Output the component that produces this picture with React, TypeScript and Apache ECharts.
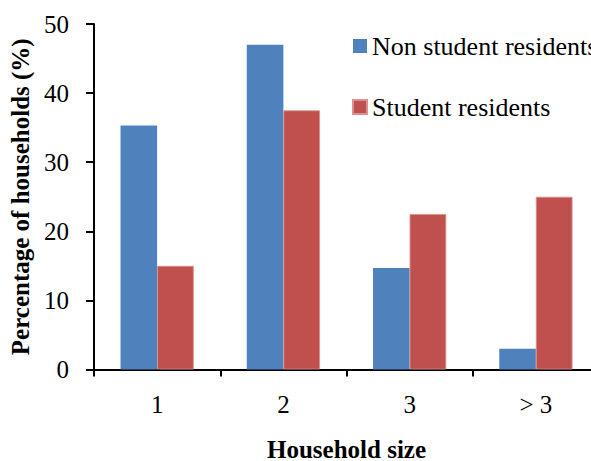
import React, { useEffect, useRef } from "react";
import * as echarts from "echarts";

const categories = ["1", "2", "3", "> 3"];
const nonStudent = [35.3, 47.0, 14.7, 3.0];
const student = [15.0, 37.5, 22.5, 25.0];
const seriesNames = ["Non student residents", "Student residents"];

export default function App() {
  const ref = useRef<HTMLDivElement>(null);
  useEffect(() => {
    if (!ref.current) return;
    const chart = echarts.init(ref.current, null, { renderer: "svg" });
    const font = "Liberation Serif";
    chart.setOption({
      animation: false,
      textStyle: { fontFamily: font, color: "#000" },
      legend: {
        orient: "vertical",
        left: 352,
        top: 33,
        padding: 0,
        itemWidth: 14,
        itemHeight: 14,
        itemGap: 35,
        icon: "rect",
        textStyle: { fontFamily: font, fontSize: 26, color: "#000" },
        data: seriesNames,
      },
      grid: {
        left: 94,
        top: 24,
        width: 505,
        height: 345.5,
        containLabel: false,
        outerBoundsMode: "none",
      },
      xAxis: {
        type: "category",
        data: categories,
        name: "Household size",
        nameLocation: "middle",
        nameGap: 67,
        nameTextStyle: { fontFamily: font, fontSize: 25, fontWeight: "bold", color: "#000", verticalAlign: "top" },
        axisLine: { lineStyle: { color: "#000", width: 2 } },
        axisTick: { show: true, length: 7, lineStyle: { color: "#000", width: 2 } },
        axisLabel: { fontFamily: font, fontSize: 25, color: "#000", margin: 22 },
      },
      yAxis: {
        type: "value",
        min: 0,
        max: 50,
        interval: 10,
        name: "Percentage of households (%)",
        nameLocation: "middle",
        nameGap: 60,
        nameRotate: 90,
        nameTextStyle: { fontFamily: font, fontSize: 25, fontWeight: "bold", color: "#000" },
        axisLine: { show: true, lineStyle: { color: "#000", width: 2 } },
        axisTick: { show: true, length: 8, lineStyle: { color: "#000", width: 2 } },
        axisLabel: { fontFamily: font, fontSize: 25, color: "#000", margin: 25 },
        splitLine: { show: false },
      },
      series: [
        {
          name: seriesNames[0],
          type: "bar",
          data: nonStudent,
          itemStyle: { color: "#4F81BD" },
          barGap: "0%",
          barCategoryGap: "42%",
        },
        {
          name: seriesNames[1],
          type: "bar",
          data: student,
          itemStyle: { color: "#C0504D", borderColor: "#D9908E", borderWidth: 0.8 },
          barGap: "0%",
          barCategoryGap: "42%",
        },
      ],
    });
    return () => chart.dispose();
  }, []);
  return (
    <div
      ref={ref}
      style={{ position: "fixed", left: 0, top: 0, width: 591, height: 461, background: "#fff" }}
    />
  );
}
